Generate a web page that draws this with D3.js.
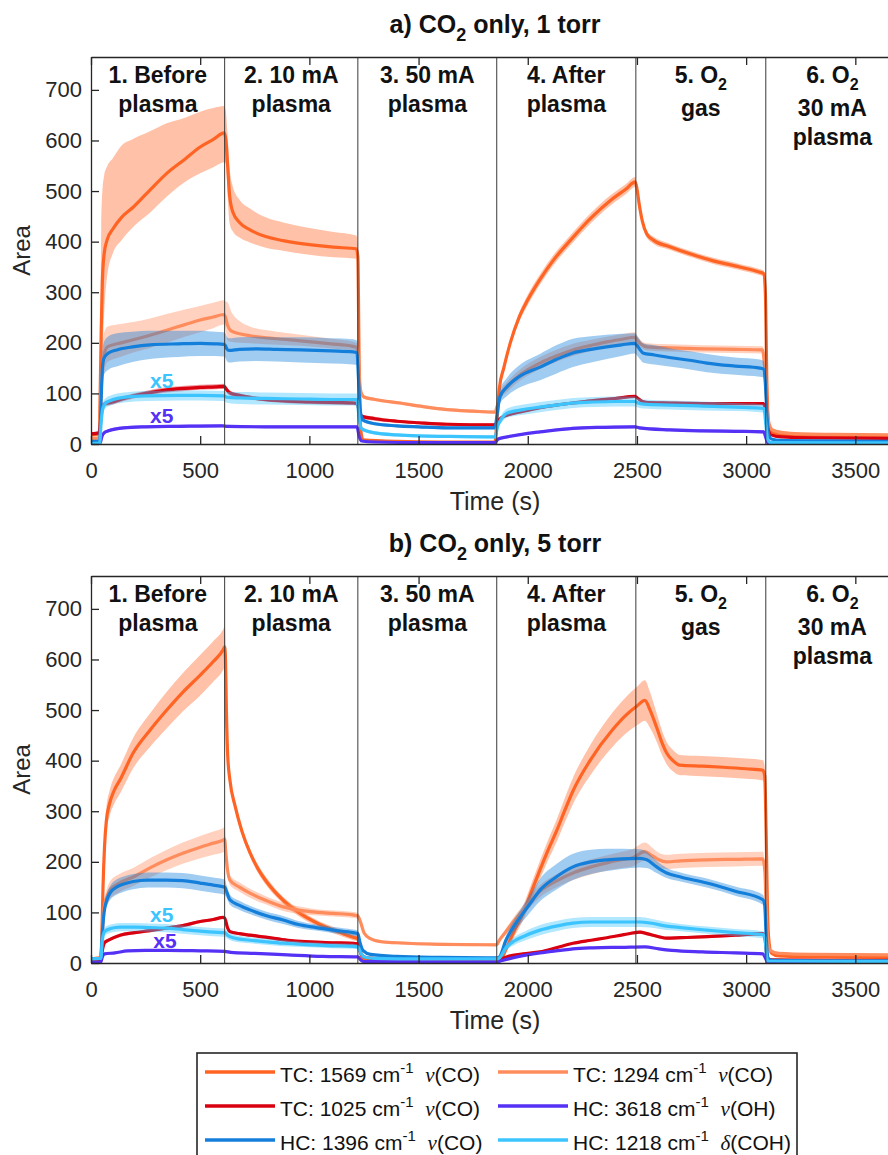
<!DOCTYPE html>
<html><head><meta charset="utf-8">
<script src="https://cdn.jsdelivr.net/npm/d3@7"></script>
<style>body{margin:0;background:#fff}svg{display:block}</style>
</head><body>
<svg id="chart" width="888" height="1155"></svg>
<script>
// ---------- tick labels / categories ----------
const xTicks = [0, 500, 1000, 1500, 2000, 2500, 3000, 3500];
const yTicks = [0, 100, 200, 300, 400, 500, 600, 700];
const xDomain = [0, 3700];
const yDomain = [0, 765];
const boundaries = [612, 1222, 1858, 2495, 3090];
const sectionLabels = [
  ["1. Before", "plasma"],
  ["2. 10 mA", "plasma"],
  ["3. 50 mA", "plasma"],
  ["4. After", "plasma"],
  ["5. O_2", "gas"],
  ["6. O_2", "30 mA", "plasma"]
];
const panelTitles = [["a) CO", "2", " only, 1 torr"], ["b) CO", "2", " only, 5 torr"]];
const seriesKeys = ["TC1569", "TC1294", "TC1025", "HC3618", "HC1396", "HC1218"];
const seriesColors = ["#FF6424", "#FF8C5C", "#D9000F", "#5530F5", "#137FDB", "#3CC4FF"];
const legendLabels = [
  ["TC: 1569 cm", "-1", "\u03BD", "(CO)"],
  ["TC: 1294 cm", "-1", "\u03BD", "(CO)"],
  ["TC: 1025 cm", "-1", "\u03BD", "(CO)"],
  ["HC: 3618 cm", "-1", "\u03BD", "(OH)"],
  ["HC: 1396 cm", "-1", "\u03BD", "(CO)"],
  ["HC: 1218 cm", "-1", "\u03B4", "(COH)"]
];
const x5Notes = [[270, 111, 5], [270, 41, 3]]; // [time, value, series index] panel a
const x5NotesB = [[270, 81, 5], [285, 30, 3]];

// ---------- series values: [time, mean, band below, band above (optional)] ----------
// Panel a (1 torr)
const a_TC1569 = [[0,18,4],[38,20,5],[42,100,60,80],[47,230,110,200],[52,320,150,180],[60,375,120,155],[75,405,70,145],[100,425,48,140],[140,448,45,142],[193,468,39,135],[270,502,45,116],[347,535,46,99],[430,563,45,82],[500,587,52,70],[560,602,55,62],[610,615,58,53],
 [618,600,45,55],[625,555,60,60],[635,490,55,55],[650,458,38,50],[680,438,30,45],[730,423,25,42],[800,410,22,38],[880,402,20,36],[1000,394,20,33],[1110,389,20,30],[1215,386,20,26],[1222,370,18],[1228,150,10],[1235,30,5],[1245,8,3],[1400,5,2],[1600,4,2],[1850,4,2],
 [1858,40,5],[1870,110,8],[1890,150,8],[1920,200,8],[1960,250,9],[2000,285,10],[2060,328,10],[2115,362,10],[2200,405,10],[2290,447,10],[2380,482,10],[2450,504,10],[2492,518,10],
 [2500,505,8],[2510,475,8],[2525,440,7],[2545,415,7],[2575,403,7],[2650,390,6],[2750,375,6],[2850,362,6],[2970,350,6],[3060,340,6],[3080,337,6],[3088,300,6],[3095,120,5],[3102,40,4],[3115,25,3],[3150,19,3],[3250,16,2],[3400,15,2],[3700,14,2]];
const a_TC1294 = [[0,10,3],[38,12,3],[45,90,30],[52,150,40],[60,175,35,45],[75,192,30,40],[120,198,28,38],[193,206,25,35],[270,215,25,33],[347,225,25,32],[430,236,24,30],[500,245,24,28],[560,251,22,28],[608,256,20,28],
 [615,252,22,30],[625,235,30,45],[640,224,22,40],[680,218,18,25],[730,214,15,18],[850,208,12,14],[960,204,10,12],[1100,198,9,10],[1200,193,8,9],[1218,191,8],[1226,150,6],[1235,105,5],[1250,93,4],[1300,88,3],[1415,81,3],[1520,74,3],[1630,68,3],[1750,65,3],[1850,63,3],
 [1860,75,5],[1880,100,8],[1905,113,10],[1960,135,11],[2056,160,12],[2130,174,12],[2207,186,12],[2290,195,11],[2362,202,10],[2430,207,10],[2490,211,10],
 [2500,206,8],[2520,197,7],[2545,192,7],[2650,190,7],[2800,188,7],[2950,187,7],[3075,186,7],[3085,150,6],[3095,80,5],[3105,40,4],[3120,28,3],[3160,23,3],[3250,20,2],[3400,19,2],[3700,18,2]];
const a_TC1025 = [[0,20,3],[38,22,3],[45,50,5],[52,72,5],[65,80,5],[90,82,5],[150,90,5],[250,100,5],[347,107,5],[430,110,5],[500,112,5],[570,113,5],[610,114,5],
 [620,108,5],[636,101,5],[680,96,4],[730,92,4],[850,86,4],[1000,83,4],[1200,81,4],[1218,80,4],[1228,65,4],[1240,55,4],[1300,50,4],[1400,45,3],[1500,42,3],[1630,39,3],[1850,38,3],
 [1860,45,3],[1880,52,3],[1905,57,3],[1980,65,3],[2056,72,3],[2130,77,3],[2207,81,3],[2300,86,3],[2400,90,3],[2490,94,3],
 [2505,90,3],[2520,85,3],[2550,82,3],[2650,81,3],[2800,80,3],[2950,80,3],[3080,80,3],[3090,60,3],[3100,30,3],[3115,18,2],[3160,14,2],[3300,12,2],[3700,11,2]];
const a_HC3618 = [[0,1,2],[42,2,2],[50,15,3],[60,22,3],[80,26,3],[150,32,3],[250,34,3],[400,35,3],[600,36,3],[620,35,3],[800,34,3],[1000,34,3],[1218,34,3],[1228,15,2],[1240,6,2],[1300,4,2],[1500,3,2],[1850,3,2],
 [1865,10,2],[1905,14,2],[2000,21,2],[2056,24,2],[2207,31,3],[2350,33,3],[2490,34,3],[2510,32,3],[2650,28,3],[2800,26,3],[2950,25,3],[3080,24,3],[3092,10,2],[3100,2,1],[3700,1,1]];
const a_HC1396 = [[0,5,2],[40,6,3],[46,80,25],[52,150,30],[58,168,32],[80,180,33],[118,186,33],[190,192,30],[270,196,28],[400,198,26],[500,199,25],[570,198,24],[608,197,24],
 [615,195,24],[622,188,24],[632,185,24],[680,187,24],[760,188,24],[850,187,24],[960,186,25],[1100,184,25],[1200,182,25],[1218,180,24],[1226,120,12],[1235,60,6],[1246,47,4],[1300,40,3],[1400,36,3],[1500,34,3],[1630,32,3],[1850,32,3],
 [1860,60,8],[1872,93,14],[1905,113,18],[1960,133,22],[2056,152,26],[2130,167,28],[2207,180,28],[2290,187,26],[2362,192,24],[2430,196,22],[2490,199,20],
 [2500,195,20],[2515,186,19],[2527,180,19],[2580,176,19],[2665,170,18],[2750,165,18],[2820,160,18],[2950,154,17],[3063,150,17],[3080,148,16],[3088,120,12],[3095,60,6],[3102,20,3],[3115,10,2],[3160,7,2],[3300,6,2],[3700,5,2]];
const a_HC1218 = [[0,1,2],[40,2,3],[46,40,8],[54,70,10],[65,80,10],[90,86,10],[150,92,10],[250,95,10],[400,96,10],[500,96,10],[608,95,10],
 [625,92,11],[680,91,12],[800,90,12],[960,89,12],[1100,88,12],[1218,88,12],[1228,50,6],[1240,30,4],[1300,22,3],[1400,18,3],[1500,16,3],[1630,15,3],[1850,14,3],
 [1862,35,6],[1880,50,8],[1905,61,9],[1980,68,10],[2056,73,10],[2130,77,10],[2207,81,10],[2300,83,10],[2400,84,10],[2490,84,10],
 [2505,81,9],[2530,79,9],[2650,77,9],[2800,75,9],[2950,73,8],[3063,71,8],[3082,70,8],[3090,40,5],[3098,10,2],[3110,3,1],[3700,2,1]];

// Panel b (5 torr)
const b_TC1569 = [[0,8,3],[45,10,3],[50,60,20],[55,150,25],[62,230,25],[70,280,25],[85,315,25],[105,340,26],[133,362,27],[193,415,30],[270,460,33],[347,500,36],[420,535,38],[500,569,40],[560,596,40],[605,619,40],[612,625,40],
 [616,600,30],[620,500,20],[626,410,12],[636,362,10],[660,310,9],[690,262,8],[728,218,8],[765,186,8],[805,160,8],[880,124,7],[957,98,7],[1030,80,6],[1110,65,6],[1160,57,6],[1200,51,6],[1222,48,6],[1232,25,4],[1245,8,3],[1300,5,2],[1500,4,2],[1858,4,2],
 [1872,5,3],[1905,32,8],[1940,65,12],[1978,98,14],[2016,140,16],[2056,184,18],[2095,225,20],[2133,262,22],[2170,302,24],[2207,340,26],[2285,400,30],[2390,462,34],[2450,490,36],[2500,508,38],[2536,519,40],
 [2560,500,35],[2590,466,28],[2615,435,24],[2636,415,22],[2665,400,21],[2697,391,20],[2800,389,20],[2894,387,20],[3000,384,20],[3077,381,20],[3085,370,18],[3092,250,10],[3098,100,5],[3105,40,4],[3115,20,3],[3150,14,2],[3300,12,2],[3700,11,2]];
const b_TC1294 = [[0,8,2],[45,10,3],[52,60,10],[60,110,15],[72,130,16],[87,144,17],[130,158,18],[193,170,18],[270,188,19],[347,204,20],[420,217,21],[500,229,22],[560,237,23],[605,243,24],[612,245,24],
 [618,215,18],[625,185,12],[636,164,10],[680,150,9],[728,138,9],[800,124,8],[880,111,8],[960,104,7],[1040,100,6],[1110,98,6],[1200,95,6],[1222,93,6],[1235,80,5],[1250,60,4],[1280,48,3],[1330,42,3],[1400,40,3],[1600,37,3],[1858,36,3],
 [1870,45,4],[1900,62,6],[1940,85,8],[1990,110,10],[2056,142,12],[2130,162,13],[2207,178,14],[2290,190,15],[2362,198,15],[2430,204,16],[2480,208,17],[2536,220,18],
 [2570,212,16],[2600,204,14],[2636,200,14],[2700,202,14],[2820,204,14],[2950,205,14],[3077,206,14],[3086,180,12],[3093,90,6],[3100,40,4],[3110,25,3],[3150,19,2],[3300,17,2],[3700,16,2]];
const b_TC1025 = [[0,5,2],[45,6,2],[52,25,3],[62,40,3],[80,45,3],[133,55,3],[200,60,3],[270,64,3],[347,69,3],[420,74,3],[500,82,3],[560,86,3],[605,90,3],[612,89,3],
 [625,70,3],[636,62,3],[680,58,3],[728,55,3],[800,51,3],[900,45,3],[1000,42,3],[1100,40,3],[1200,39,3],[1222,38,3],[1235,20,2],[1250,12,2],[1300,9,2],[1500,8,2],[1858,7,2],
 [1875,8,2],[1920,14,2],[1978,18,2],[2056,22,2],[2130,30,2],[2207,39,2],[2290,45,2],[2362,50,2],[2440,56,2],[2514,61,3],
 [2545,58,3],[2600,52,3],[2636,49,3],[2700,50,3],[2820,52,3],[2950,55,3],[3077,58,3],[3086,50,3],[3093,20,2],[3100,8,2],[3120,6,2],[3700,5,2]];
const b_HC3618 = [[0,1,1],[45,2,1],[52,12,2],[62,18,2],[110,20,2],[167,24,2],[250,25,2],[350,25,2],[500,24,2],[612,23,2],
 [640,21,2],[750,19,2],[900,16,2],[1060,13,2],[1222,12,2],[1235,6,1],[1250,3,1],[1858,2,1],
 [1875,4,2],[1950,12,2],[2056,20,2],[2150,25,2],[2207,28,2],[2300,30,2],[2430,31,2],[2536,32,2],[2600,28,2],[2660,25,2],[2800,22,2],[2950,20,2],[3077,18,2],[3090,8,1],[3100,2,1],[3700,1,1]];
const b_HC1396 = [[0,8,2],[45,9,3],[52,60,10],[60,100,12],[73,125,13],[90,140,14],[117,150,15],[150,156,15],[193,161,15],[260,164,15],[347,164,15],[420,163,15],[500,158,15],[560,154,15],[612,150,15],
 [622,140,12],[636,125,10],[680,114,9],[728,105,8],[800,94,8],[880,85,8],[950,76,7],[1030,70,6],[1110,65,6],[1200,60,6],[1222,58,6],[1232,40,4],[1245,25,3],[1280,17,2],[1400,13,2],[1600,11,2],[1858,10,2],
 [1870,12,3],[1900,45,8],[1940,75,12],[1978,98,15],[2020,123,18],[2056,144,22],[2130,170,25],[2207,190,26],[2290,200,24],[2362,204,22],[2430,206,20],[2514,207,18],
 [2545,204,16],[2590,190,12],[2636,178,10],[2700,170,9],[2820,158,9],[2950,142,9],[3077,125,10],[3085,115,8],[3092,50,4],[3100,10,2],[3115,5,1],[3700,4,1]];
const b_HC1218 = [[0,8,2],[45,9,3],[52,45,6],[62,62,8],[90,68,8],[133,71,8],[200,71,8],[270,70,8],[347,69,8],[420,66,8],[500,63,8],[560,61,8],[612,60,8],
 [625,55,7],[650,50,7],[728,45,6],[800,42,6],[880,39,6],[1000,36,5],[1100,34,5],[1200,33,5],[1222,32,5],[1235,20,4],[1250,12,3],[1300,9,2],[1500,8,2],[1858,8,2],
 [1870,10,3],[1900,30,6],[1940,44,8],[1978,52,9],[2056,65,10],[2130,73,10],[2207,79,10],[2290,81,10],[2362,81,10],[2450,81,10],[2514,81,10],
 [2560,79,9],[2636,73,8],[2700,70,7],[2820,65,7],[2950,60,7],[3077,56,7],[3086,50,6],[3093,15,3],[3100,4,2],[3700,3,1]];

const panelA = [a_TC1569, a_TC1294, a_TC1025, a_HC3618, a_HC1396, a_HC1218];
const panelB = [b_TC1569, b_TC1294, b_TC1025, b_HC3618, b_HC1396, b_HC1218];

// ---------- drawing ----------
const SANS = "'Liberation Sans', Arial, Helvetica, sans-serif";
const SERIF = "'Liberation Serif', 'DejaVu Serif', 'Times New Roman', serif";
const AX = "#262626";
const svg = d3.select("#chart");
const left = 91, right = 899, plotH = 387;
const x = d3.scaleLinear().domain(xDomain).range([left, right]);
const fmt = d3.format("d");

function rich(sel, parts, size) {
  let off = 0;
  parts.forEach(([s, t]) => {
    const target = t === "sub" ? Math.round(size * 0.3) : t === "sup" ? -Math.round(size * 0.42) : 0;
    const ts = sel.append("tspan").text(s).attr("dy", target - off);
    off = target;
    if (t === "sub" || t === "sup") ts.attr("font-size", Math.round(size * 0.7));
    if (t === "it") ts.attr("font-family", SERIF).attr("font-style", "italic");
  });
}
function labelParts(str) {
  const i = str.indexOf("_");
  if (i < 0) return [[str, "n"]];
  return [[str.slice(0, i), "n"], [str.slice(i + 1), "sub"]];
}

function drawPanel(top, data, title, idx, notes) {
  const y = d3.scaleLinear().domain(yDomain).range([top + plotH, top]);
  const g = svg.append("g");
  const clipId = "clip" + idx;
  svg.append("clipPath").attr("id", clipId).append("rect")
    .attr("x", left).attr("y", top).attr("width", right - left).attr("height", plotH);

  const plot = g.append("g").attr("clip-path", `url(#${clipId})`);
  const area = d3.area().curve(d3.curveMonotoneX)
    .x(d => x(d[0])).y0(d => y(d[1] - d[2])).y1(d => y(d[1] + (d[3] ?? d[2])));
  const line = d3.line().curve(d3.curveMonotoneX).x(d => x(d[0])).y(d => y(d[1]));
  data.forEach((s, i) => {
    plot.append("path").datum(s).attr("d", area)
      .attr("fill", seriesColors[i]).attr("fill-opacity", 0.4).attr("stroke", "none");
    plot.append("path").datum(s).attr("d", line)
      .attr("fill", "none").attr("stroke", seriesColors[i]).attr("stroke-width", 3.2)
      .attr("stroke-linejoin", "round");
  });

  // section boundaries
  g.selectAll("line.sec").data(boundaries).join("line")
    .attr("x1", d => x(d)).attr("x2", d => x(d)).attr("y1", top).attr("y2", top + plotH)
    .attr("stroke", "#3a3a3a").attr("stroke-width", 1);

  // axes
  const styleAxis = a => {
    a.selectAll(".domain").attr("stroke", AX).attr("stroke-width", 1.3);
    a.selectAll(".tick line").attr("stroke", AX).attr("stroke-width", 1.3);
    a.selectAll("text").attr("fill", AX).attr("font-size", 22).attr("font-family", SANS);
  };
  g.append("g").attr("transform", `translate(0,${top + plotH})`)
    .call(d3.axisBottom(x).tickValues(xTicks).tickFormat(fmt).tickSizeInner(-8).tickSizeOuter(0).tickPadding(18)).call(styleAxis);
  g.append("g").attr("transform", `translate(0,${top})`)
    .call(d3.axisTop(x).tickValues(xTicks).tickSizeInner(-8).tickSizeOuter(0).tickFormat("")).call(styleAxis);
  g.append("g").attr("transform", `translate(${left},0)`)
    .call(d3.axisLeft(y).tickValues(yTicks).tickFormat(fmt).tickSizeInner(-8).tickSizeOuter(0).tickPadding(9)).call(styleAxis);
  g.append("g").attr("transform", `translate(${right},0)`)
    .call(d3.axisRight(y).tickValues(yTicks).tickSizeInner(-8).tickSizeOuter(0).tickFormat("")).call(styleAxis);

  // section labels
  const edges = [xDomain[0], ...boundaries, xDomain[1]];
  sectionLabels.forEach((lines, i) => {
    const cx = x((edges[i] + edges[i + 1]) / 2);
    let by = top + 26;
    lines.forEach((ln) => {
      const t = g.append("text").attr("x", cx).attr("y", by).attr("text-anchor", "middle")
        .attr("font-family", SANS).attr("font-weight", "bold").attr("font-size", 23).attr("fill", "#111");
      rich(t, labelParts(ln), 23);
      by += ln.includes("_") ? 33 : 29;
    });
  });

  // x5 notes
  notes.forEach(([t, v, si]) => {
    g.append("text").attr("x", x(t)).attr("y", y(v)).attr("font-family", SANS)
      .attr("font-weight", "bold").attr("font-size", 21).attr("fill", seriesColors[si]).text("x5");
  });

  // title
  const tt = g.append("text").attr("x", (left + right) / 2).attr("y", top - 24).attr("text-anchor", "middle")
    .attr("font-family", SANS).attr("font-weight", "bold").attr("font-size", 25).attr("fill", "#111");
  rich(tt, [[title[0], "n"], [title[1], "sub"], [title[2], "n"]], 25);

  // axis labels
  g.append("text").attr("x", (left + right) / 2).attr("y", top + plotH + 66).attr("text-anchor", "middle")
    .attr("font-family", SANS).attr("font-size", 25).attr("fill", AX).text("Time (s)");
  g.append("text").attr("transform", `translate(30,${top + plotH / 2}) rotate(-90)`).attr("text-anchor", "middle")
    .attr("font-family", SANS).attr("font-size", 24).attr("fill", AX).text("Area");
}

drawPanel(57, panelA, panelTitles[0], 0, x5Notes);
drawPanel(576, panelB, panelTitles[1], 1, x5NotesB);

// legend
const lg = svg.append("g");
lg.append("rect").attr("x", 197).attr("y", 1053).attr("width", 600).attr("height", 125)
  .attr("fill", "#fff").attr("stroke", AX).attr("stroke-width", 1.6);
legendLabels.forEach((lab, i) => {
  const col = i % 2, row = Math.floor(i / 2);
  const lx = col === 0 ? 205 : 498;
  const by = 1082 + row * 34;
  lg.append("line").attr("x1", lx).attr("x2", lx + 70).attr("y1", by - 10).attr("y2", by - 10)
    .attr("stroke", seriesColors[i]).attr("stroke-width", 3.5);
  const t = lg.append("text").attr("x", lx + 75).attr("y", by).attr("font-family", SANS)
    .attr("font-size", 21).attr("fill", "#111");
  rich(t, [[lab[0], "n"], [lab[1], "sup"], ["\u00A0\u00A0", "n"], [lab[2], "it"], [lab[3], "n"]], 21);
});
</script>
</body></html>
